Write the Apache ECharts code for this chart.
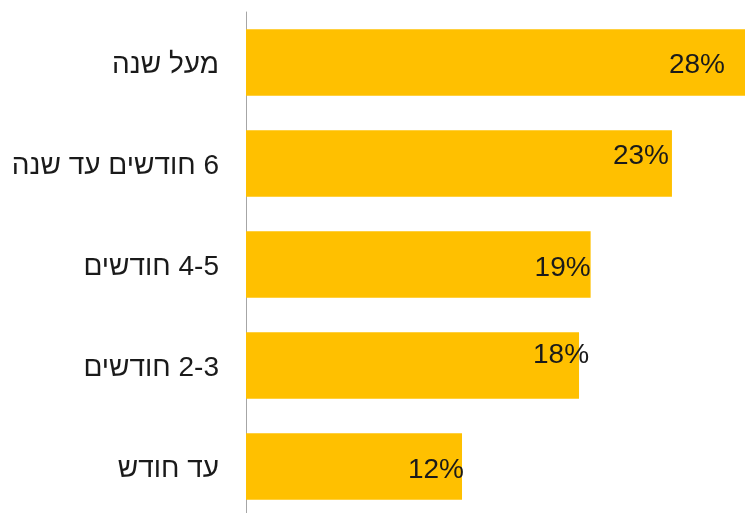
<!DOCTYPE html>
<html><head><meta charset="utf-8">
<script src="https://cdn.jsdelivr.net/npm/echarts@6/dist/echarts.min.js"></script>
<style>html,body{margin:0;padding:0;background:#fff;overflow:hidden}#c{width:745px;height:517px}</style>
</head><body><div id="c"></div>
<script>
const categories = ['מעל שנה', '6 חודשים עד שנה', '4-5 חודשים', '2-3 חודשים', 'עד חודש'];
const values = [28.0, 23.15, 18.73, 18.10, 11.74];
const labelTexts = ['28%', '23%', '19%', '18%', '12%'];
const labelOffsets = [[-20, 3], [-3, -7], [0, 4], [10, -10], [2, 4]];

const chart = echarts.init(document.getElementById('c'), null, {renderer: 'canvas'});
chart.setOption({
  animation: false,
  grid: {left: 246, right: 0, top: 12, bottom: 0, containLabel: false},
  xAxis: {type: 'value', min: 0, max: 27.12, show: false},
  yAxis: {
    type: 'category', data: categories, inverse: true,
    axisLine: {show: true, lineStyle: {color: '#a6a6a6', width: 1}},
    axisTick: {show: false},
    axisLabel: {
      margin: 27,
      formatter: (v) => '{a|\u200F' + v + '}',
      rich: {a: {fontFamily: 'Liberation Sans', fontSize: 28, color: '#1a1a1a', padding: [6, 0, 0, 0]}}
    }
  },
  series: [{
    type: 'bar', barCategoryGap: '34%', clip: true,
    itemStyle: {color: '#FFC000'},
    data: values.map((v, i) => ({
      value: v,
      label: {
        show: true, position: 'insideRight', distance: 0,
        offset: labelOffsets[i],
        formatter: () => labelTexts[i],
        fontFamily: 'Liberation Sans', fontSize: 28, color: '#1a1a1a'
      }
    }))
  }]
});
</script></body></html>
